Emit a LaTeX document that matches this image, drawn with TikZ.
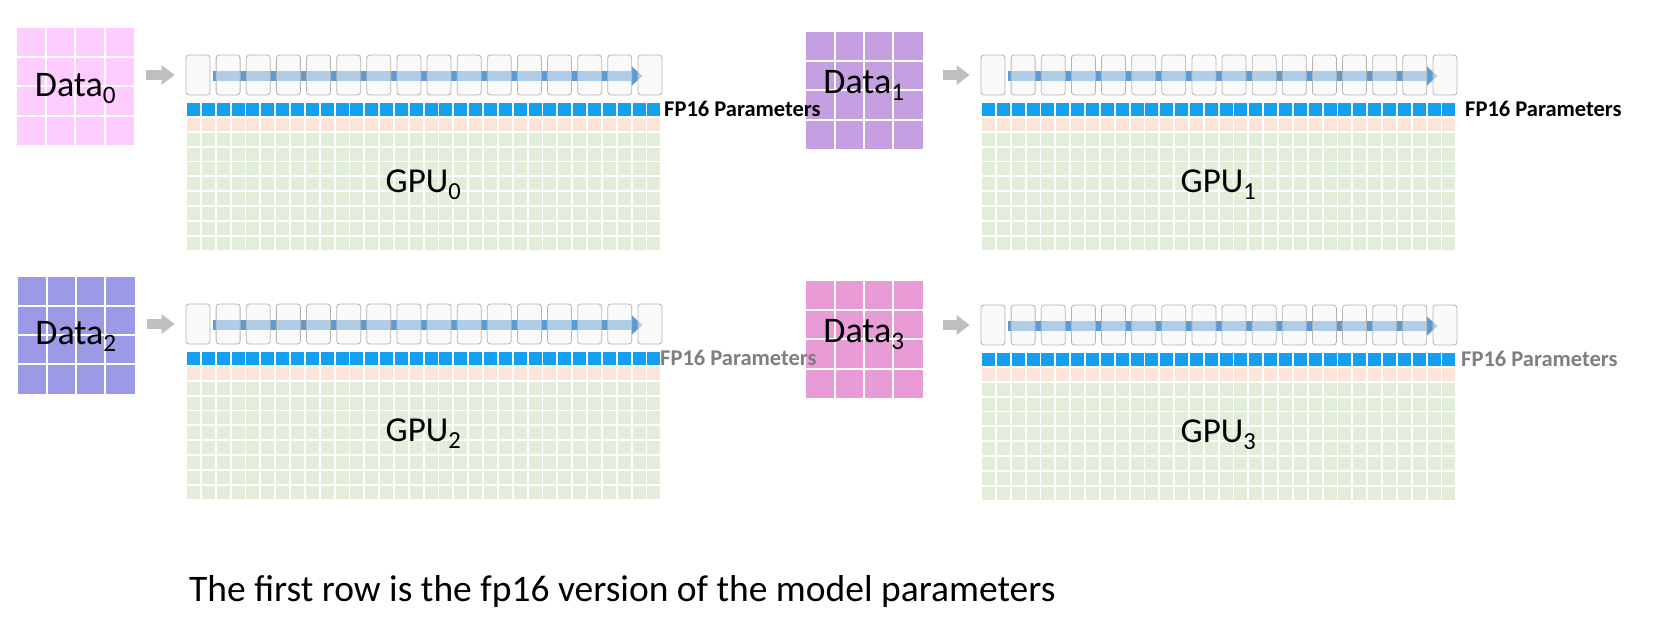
\documentclass[tikz,border=0pt]{standalone}
\usepackage{fontspec}
\setmainfont{Carlito}
\usepackage{tikz}
\usetikzlibrary{arrows.meta,backgrounds}
\pgfdeclarelayer{background}
\pgfsetlayers{background,main}

\definecolor{dataA}{HTML}{FFCCFF}
\definecolor{dataB}{HTML}{C4A0E2}
\definecolor{dataC}{HTML}{9C9AE6}
\definecolor{dataD}{HTML}{E89BD4}
\definecolor{cellblue}{HTML}{14A0F0}
\definecolor{cellpeach}{HTML}{FDE4D8}
\definecolor{cellgreen}{HTML}{E2EEDA}
\definecolor{slotfill}{HTML}{F7F7F7}
\definecolor{slotline}{HTML}{B4B4B4}
\definecolor{barblue}{HTML}{5B9BD5}
\definecolor{feedgray}{HTML}{BFBFBF}
\definecolor{labgray}{HTML}{7F7F7F}

\tikzset{
  datablk/.style={rectangle, minimum size=117pt, inner sep=0pt},
  datatxt/.style={anchor=base, inner sep=0pt, font=\fontsize{36}{42}\selectfont},
  slot/.style={rectangle, rounded corners=3pt, minimum width=24pt, minimum height=40pt,
    inner sep=0pt, draw=slotline, fill=slotfill, fill opacity=.55, line width=.8pt},
  flow/.style={draw=barblue, line width=10pt, -{Triangle[width=19pt,length=11pt]}},
  feed/.style={draw=feedgray, line width=10pt, -{Triangle[width=19pt,length=13pt]}},
  plabel/.style={anchor=base west, inner sep=0pt, font=\fontsize{22.5}{26}\selectfont\bfseries},
  gputxt/.style={anchor=base, inner sep=0pt, font=\fontsize{35}{42}\selectfont},
}

\begin{document}
\begin{tikzpicture}[x=1pt, y=-1pt]
    \useasboundingbox (0,0) rectangle (1678,637);
    \begin{pgfonlayer}{background}
        \fill[white] (0,0) rectangle (1678,637);
    \end{pgfonlayer}

    % one panel per GPU: data block, feed arrow, layer slots, memory grid
    \foreach \p/\dx/\dy/\dc/\tb/\gx/\gy/\sh in {
        0/75.5/86.5/dataA/96/187/103/12,
        1/864/90.5/dataB/93/982/103/20,
        2/76/335/dataC/344/187/352/12,
        3/864/339.5/dataD/342/982/353/20}{

        \node[datablk, fill=\dc] (d\p) at (\dx,\dy) {};
        \foreach \k in {1,2,3}{
            \draw[white, line width=2pt] ([xshift=\k*29.25pt]d\p.north west) -- ([xshift=\k*29.25pt]d\p.south west);
            \draw[white, line width=2pt] ([yshift=-\k*29.25pt]d\p.north west) -- ([yshift=-\k*29.25pt]d\p.north east);
        }
        \node[datatxt] (t\p) at (\dx,\tb) {Data\textsubscript{\p}};

        % memory grid
        \foreach \c in {0,...,31}{
            \fill[cellblue] ({\gx+\c*14.85},\gy) rectangle +(13,13);
            \fill[cellpeach] ({\gx+\c*14.85},{\gy+14.85}) rectangle +(13,13);
            \foreach \r in {2,...,9}
                \fill[cellgreen] ({\gx+\c*14.85},{\gy+\r*14.85}) rectangle +(13,13);
        }
        \node[gputxt] (g\p) at ({\gx+236.5},{\gy+89}) {GPU\textsubscript{\p}};

        % layer slots
        \foreach \k in {1,...,16}
            \node[slot] (b\p-\k) at ({\gx+11+(\k-1)*30.13},{\gy-28}) {};

        \begin{pgfonlayer}{background}
            \draw[flow] ([xshift=-3pt, yshift=-1pt]b\p-2.west) -- ([xshift=5pt, yshift=-1pt]b\p-16.west);
        \end{pgfonlayer}
        \draw[feed, shorten <=\sh pt, shorten >=11pt] (d\p.east |- b\p-1.west) -- (b\p-1.west);
    }

    % labels last, so they sit on top of the next data block
    \foreach \p/\lx/\ly/\lc in {0/664/116.5/black, 1/1465/116.5/black, 2/660/365.5/labgray, 3/1461/366.5/labgray}
        \node[plabel, text=\lc] (l\p) at (\lx,\ly) {FP16 Parameters};

    \node[anchor=base west, inner sep=0pt, font=\fontsize{37.5}{44}\selectfont] (cap) at (189,601)
        {The first row is the fp16 version of the model parameters};

\end{tikzpicture}
\end{document}
